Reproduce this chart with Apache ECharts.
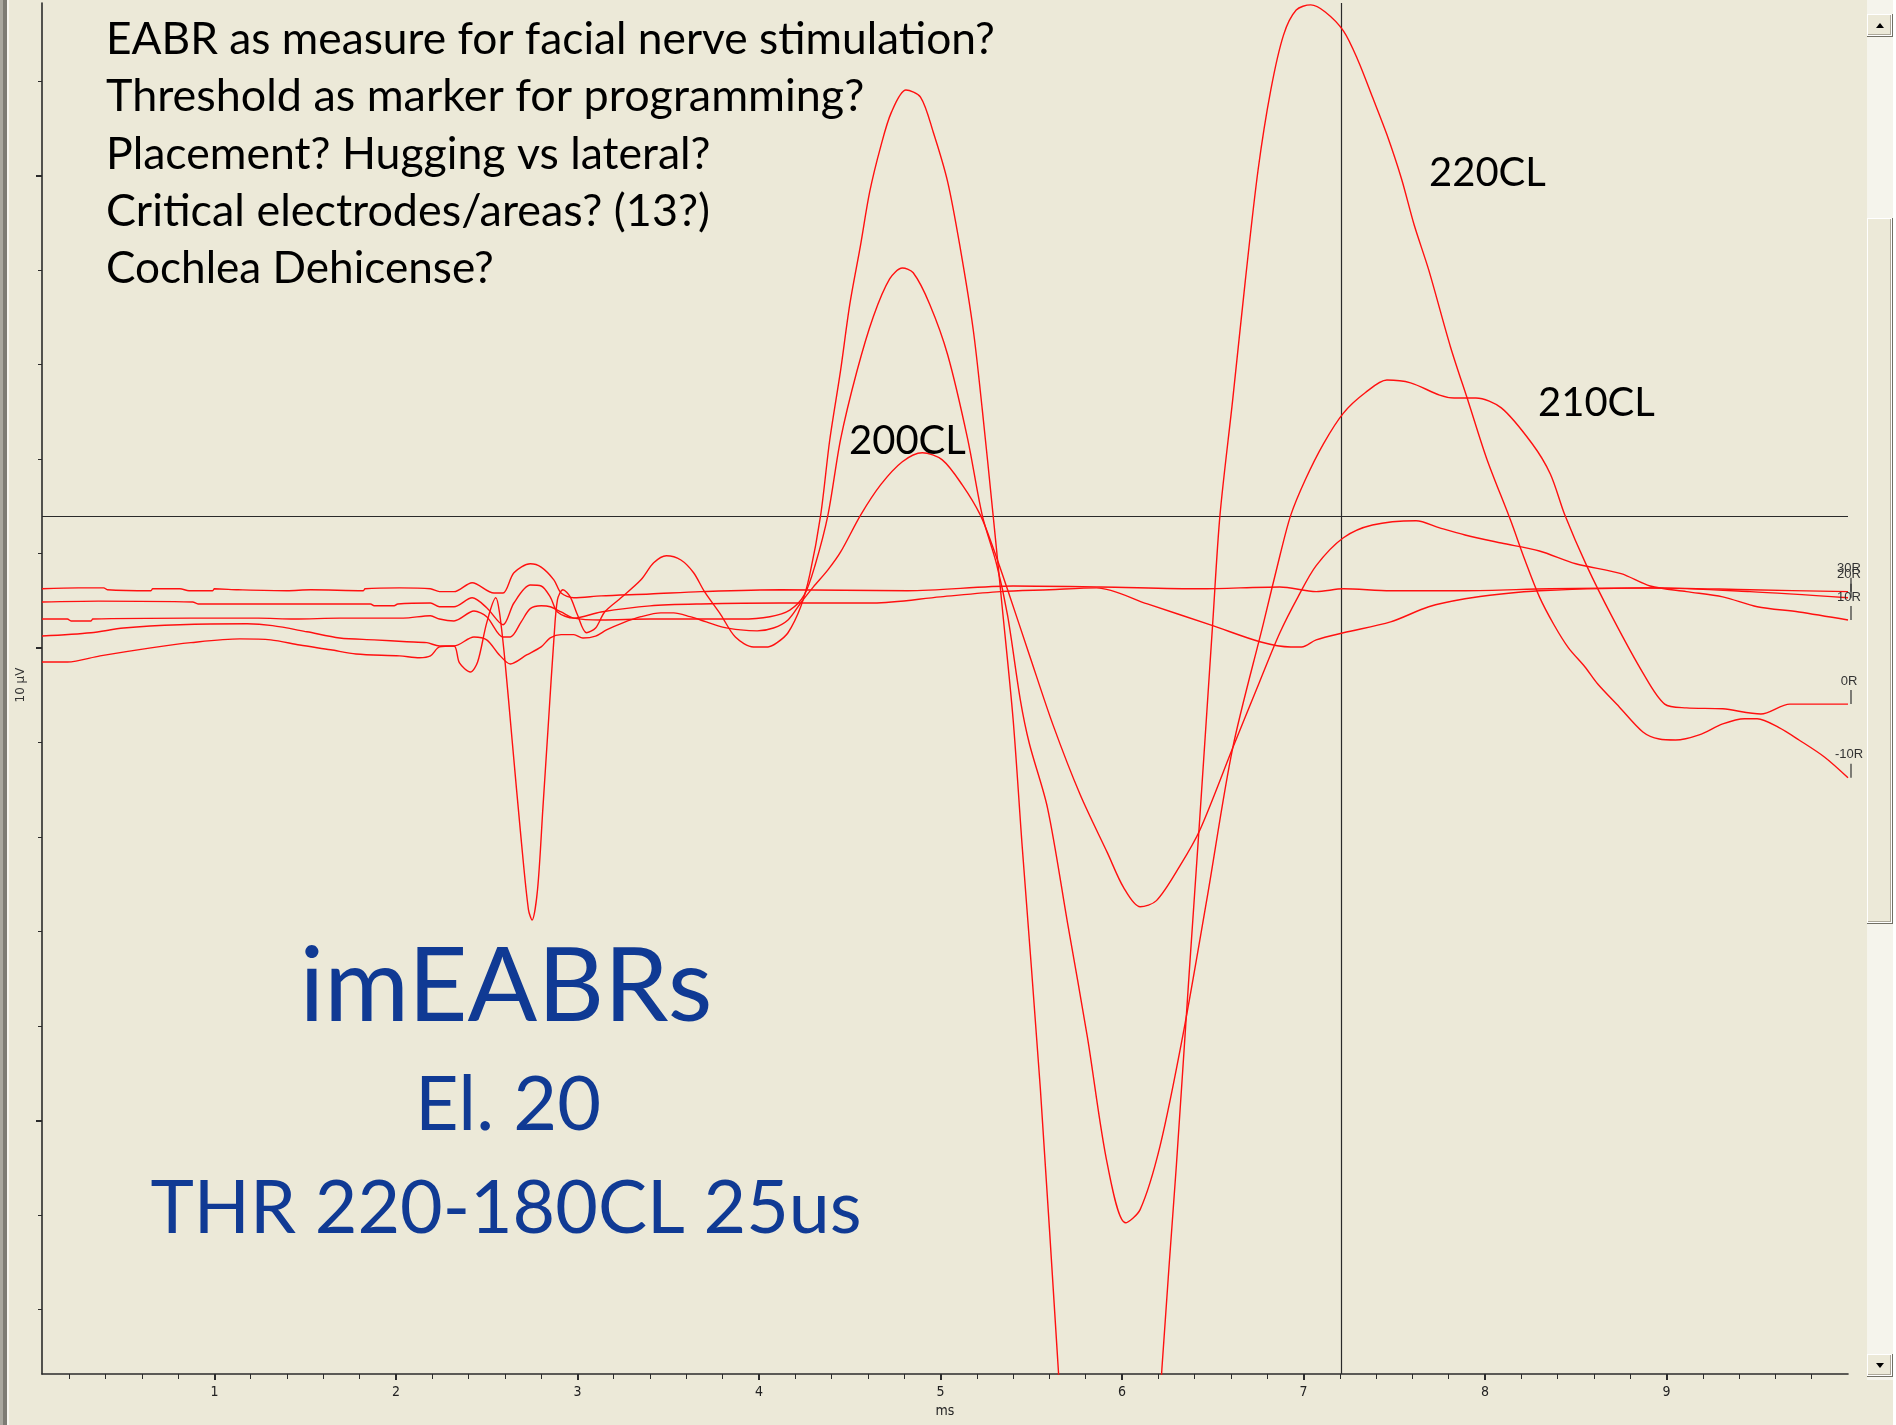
<!DOCTYPE html>
<html><head><meta charset="utf-8">
<script src="https://cdn.jsdelivr.net/npm/echarts@6/dist/echarts.min.js"></script>
<style>html,body{margin:0;padding:0;background:#ECE9D8;overflow:hidden}#c{width:1896px;height:1425px}</style>
</head><body><div id="c"></div>
<script>
// ---------- data (time in ms, amplitude in µV) ----------
const X_LABELS = [1,2,3,4,5,6,7,8,9];
const Y_TICKS = [12,10,8,6,4,2,0,-2,-4,-6,-8,-10,-12,-14];
const Y_MAJOR = [10,0,-10];
const X_RANGE = [0.05, 10];
const Y_RANGE = [-15.37, 13.65];
const CURSOR_MS = 7.21;
const CURSOR_UV = 2.79;
const END_LABELS = ['30R','20R','10R','0R','-10R'];
const QUESTIONS = ['EABR as measure for facial nerve stimulation?','Threshold as marker for programming?','Placement? Hugging vs lateral?','Critical electrodes/areas? (13?)','Cochlea Dehicense?'];
const CURVE_LABELS = ['220CL','210CL','200CL'];
const TITLE_LINES = ['imEABRs','El. 20','THR 220-180CL 25us'];

const trace180 = [[0.05,1.25],[0.25,1.27],[0.39,1.27],[0.41,1.23],[0.65,1.21],[0.66,1.25],[0.81,1.25],[0.86,1.21],[0.99,1.21],[1.00,1.25],[1.13,1.23],[1.40,1.21],[1.53,1.23],[1.82,1.21],[1.83,1.25],[2.02,1.27],[2.19,1.25],[2.24,1.19],[2.32,1.19],[2.42,1.38],[2.54,1.16],[2.59,1.16],[2.65,1.59],[2.74,1.78],[2.80,1.71],[2.87,1.44],[2.91,1.16],[2.98,1.06],[3.13,1.10],[3.40,1.14],[3.68,1.19],[4.12,1.23],[4.82,1.21],[5.40,1.31],[5.88,1.29],[6.43,1.25],[6.87,1.29],[7.07,1.19],[7.22,1.25],[7.48,1.21],[7.89,1.21],[8.36,1.25],[8.91,1.27],[9.46,1.23],[10.0,1.19]];
const trace190 = [[0.05,0.97],[0.36,0.99],[0.88,0.97],[0.91,0.93],[1.86,0.93],[1.88,0.89],[1.99,0.89],[2.01,0.93],[2.19,0.95],[2.24,0.87],[2.32,0.87],[2.42,1.06],[2.50,0.85],[2.59,0.49],[2.65,0.95],[2.74,1.33],[2.80,1.31],[2.85,1.08],[2.89,0.76],[2.98,0.63],[3.13,0.76],[3.40,0.89],[3.68,0.93],[4.12,0.95],[4.63,0.95],[5.00,1.08],[5.33,1.19],[5.60,1.23],[5.86,1.27],[6.14,0.93],[6.50,0.47],[6.76,0.13],[6.93,0.02],[6.99,0.02],[7.07,0.17],[7.22,0.32],[7.48,0.55],[7.69,0.87],[7.89,1.04],[8.09,1.14],[8.30,1.21],[8.91,1.27],[9.46,1.19],[10.0,1.06]];
const trace200 = [[0.05,0.25],[0.32,0.32],[0.50,0.42],[0.81,0.49],[1.18,0.51],[1.32,0.47],[1.51,0.34],[1.69,0.21],[1.88,0.17],[2.06,0.13],[2.17,0.11],[2.24,0.04],[2.32,0.04],[2.43,0.23],[2.50,0.17],[2.57,-0.15],[2.63,-0.34],[2.72,-0.15],[2.80,0.02],[2.85,0.21],[2.91,0.28],[2.98,0.28],[3.03,0.21],[3.10,0.25],[3.16,0.38],[3.25,0.53],[3.35,0.66],[3.46,0.74],[3.53,0.74],[3.62,0.66],[3.71,0.55],[3.80,0.44],[3.90,0.38],[3.99,0.36],[4.08,0.42],[4.16,0.59],[4.23,0.95],[4.30,1.29],[4.38,1.65],[4.45,2.03],[4.56,2.81],[4.67,3.45],[4.79,3.94],[4.90,4.13],[5.01,3.98],[5.12,3.45],[5.22,2.81],[5.29,2.12],[5.37,1.23],[5.49,-0.15],[5.62,-1.63],[5.77,-3.11],[5.92,-4.34],[6.01,-5.08],[6.10,-5.48],[6.19,-5.35],[6.32,-4.61],[6.43,-3.85],[6.61,-2.12],[6.76,-0.70],[6.87,0.32],[6.97,1.08],[7.07,1.74],[7.22,2.33],[7.38,2.60],[7.62,2.69],[7.75,2.54],[7.89,2.39],[8.09,2.22],[8.30,2.05],[8.50,1.78],[8.75,1.57],[8.91,1.31],[9.11,1.19],[9.31,1.08],[9.50,0.87],[9.73,0.76],[10.0,0.59]];
const trace210 = [[0.05,0.61],[0.19,0.61],[0.21,0.57],[0.32,0.57],[0.33,0.61],[0.87,0.63],[1.24,0.63],[1.44,0.61],[1.69,0.63],[2.04,0.63],[2.19,0.68],[2.24,0.61],[2.32,0.57],[2.43,0.78],[2.50,0.66],[2.59,0.23],[2.63,0.23],[2.69,0.55],[2.74,0.83],[2.80,0.89],[2.85,0.87],[2.91,0.76],[2.98,0.63],[3.13,0.59],[3.40,0.61],[3.68,0.61],[3.90,0.61],[4.06,0.66],[4.17,0.80],[4.25,1.12],[4.31,1.76],[4.38,2.81],[4.45,4.42],[4.54,5.86],[4.63,7.01],[4.72,7.81],[4.79,8.04],[4.85,7.94],[4.94,7.28],[5.04,6.20],[5.15,4.42],[5.23,2.81],[5.31,1.76],[5.37,0.68],[5.44,-1.10],[5.49,-2.03],[5.59,-3.39],[5.70,-5.82],[5.81,-8.25],[5.92,-10.94],[6.02,-12.17],[6.10,-11.89],[6.21,-10.54],[6.34,-8.11],[6.47,-5.27],[6.61,-2.12],[6.78,0.53],[6.87,1.95],[6.93,2.81],[7.01,3.56],[7.11,4.32],[7.22,4.97],[7.34,5.40],[7.46,5.67],[7.59,5.61],[7.75,5.35],[7.83,5.29],[7.95,5.29],[8.09,5.08],[8.26,4.32],[8.36,3.68],[8.44,2.81],[8.56,1.74],[8.70,0.66],[8.87,-0.53],[8.99,-1.19],[9.11,-1.27],[9.31,-1.29],[9.52,-1.40],[9.68,-1.19],[10.0,-1.19]];
const trace220 = [[0.05,-0.30],[0.19,-0.30],[0.37,-0.17],[0.65,0],[0.87,0.11],[1.14,0.19],[1.31,0.17],[1.47,0.06],[1.64,-0.04],[1.78,-0.13],[2.02,-0.17],[2.13,-0.21],[2.19,-0.17],[2.24,0.02],[2.32,0.04],[2.35,-0.32],[2.41,-0.51],[2.45,-0.30],[2.50,0.53],[2.55,1.06],[2.57,0.76],[2.60,-0.25],[2.64,-1.95],[2.69,-4.06],[2.73,-5.54],[2.75,-5.76],[2.78,-5.12],[2.81,-3.37],[2.84,-1.59],[2.87,0.17],[2.89,1.02],[2.92,1.23],[2.96,1.08],[3.00,0.70],[3.05,0.32],[3.10,0.42],[3.15,0.76],[3.24,1.06],[3.35,1.44],[3.42,1.80],[3.49,1.95],[3.57,1.86],[3.64,1.59],[3.70,1.19],[3.79,0.70],[3.87,0.23],[3.97,0.02],[4.05,0.02],[4.10,0.11],[4.16,0.32],[4.23,0.87],[4.28,1.55],[4.34,2.81],[4.39,4.40],[4.45,5.88],[4.50,7.26],[4.56,8.53],[4.61,9.65],[4.67,10.60],[4.73,11.34],[4.81,11.81],[4.89,11.66],[4.96,10.92],[5.04,9.86],[5.11,8.44],[5.18,6.75],[5.23,5.06],[5.29,2.81],[5.34,0.87],[5.40,-1.50],[5.45,-4.19],[5.55,-9.31],[5.65,-15.32],[5.74,-20.57],[5.85,-24.38],[5.94,-25.44],[6.04,-24.17],[6.15,-20.15],[6.22,-15.26],[6.30,-10.94],[6.37,-6.90],[6.43,-3.53],[6.50,0.53],[6.54,2.81],[6.61,5.25],[6.68,7.79],[6.75,10.12],[6.82,11.81],[6.89,12.97],[6.96,13.50],[7.04,13.61],[7.12,13.46],[7.22,13.06],[7.30,12.44],[7.38,11.66],[7.46,10.86],[7.54,9.93],[7.61,8.95],[7.69,8.00],[7.81,6.37],[7.91,5.19],[8.01,4.00],[8.14,2.71],[8.22,1.86],[8.30,1.08],[8.38,0.49],[8.46,0],[8.55,-0.40],[8.62,-0.76],[8.74,-1.25],[8.87,-1.78],[8.96,-1.93],[9.05,-1.95],[9.18,-1.84],[9.31,-1.61],[9.43,-1.50],[9.50,-1.50],[9.62,-1.69],[9.73,-1.95],[9.87,-2.31],[10.0,-2.75]];
const TRACES = [trace180, trace190, trace200, trace210, trace220];
// trace order for end markers: 30R,20R,10R,0R,-10R
const END_TRACE_ORDER = [trace180, trace190, trace200, trace210, trace220];

// ---------- chart ----------
const X_MINOR = [];
for (let i = 1; i <= 49; i++) X_MINOR.push(+(i * 0.2).toFixed(1));

const AXIS_C = '#2b2b2b';
const chart = echarts.init(document.getElementById('c'), null, {width:1896, height:1425});

const series = TRACES.map((t, i) => ({
  type:'line', data:t, showSymbol:false, smooth:0.3, clip:true, silent:true,
  lineStyle:{color:'#ff1010', width:1.4}, z:3,
  markLine: i === 0 ? {silent:true, symbol:'none', label:{show:false}, animation:false,
    lineStyle:{color:'#2a2a2a', width:1.2, type:'solid'}, z:2,
    data:[{yAxis:CURSOR_UV},{xAxis:CURSOR_MS}]} : undefined
}));

chart.setOption({
  backgroundColor:'#ECE9D8',
  animation:false,
  grid:{left:42, top:3, right:48, bottom:51},
  xAxis:[
    {type:'value', min:X_RANGE[0], max:X_RANGE[1], position:'bottom',
     axisLine:{show:true, onZero:false, lineStyle:{color:AXIS_C, width:1.6}},
     axisTick:{show:true, customValues:X_MINOR, length:5, lineStyle:{color:AXIS_C, width:1}},
     axisLabel:{show:true, customValues:X_LABELS, margin:11, color:'#222', fontSize:14, fontFamily:'"Liberation Sans Narrow","DejaVu Sans Condensed",sans-serif'},
     splitLine:{show:false}},
    {type:'value', min:X_RANGE[0], max:X_RANGE[1], position:'bottom',
     axisLine:{show:false, onZero:false},
     axisTick:{show:true, customValues:X_LABELS, length:6, lineStyle:{color:AXIS_C, width:2}},
     axisLabel:{show:false}, splitLine:{show:false}}
  ],
  yAxis:[
    {type:'value', min:Y_RANGE[0], max:Y_RANGE[1], position:'left',
     axisLine:{show:true, onZero:false, lineStyle:{color:AXIS_C, width:1.6}},
     axisTick:{show:true, customValues:Y_TICKS, length:4, lineStyle:{color:AXIS_C, width:1}},
     axisLabel:{show:false}, splitLine:{show:false}},
    {type:'value', min:Y_RANGE[0], max:Y_RANGE[1], position:'left',
     axisLine:{show:false, onZero:false},
     axisTick:{show:true, customValues:Y_MAJOR, length:6, lineStyle:{color:AXIS_C, width:2}},
     axisLabel:{show:false}, splitLine:{show:false}}
  ],
  series: series
});

// ---------- annotations ----------
const cv = document.createElement('canvas').getContext('2d');
function fit(text, family, target) {
  cv.font = '100px ' + family;
  return 100 * target / cv.measureText(text).width;
}
const QFONT = 'Lato';
const QY = [40, 97, 155, 212, 269];
const QW = [888, 759, 605, 604, 388];
const g = [];
QUESTIONS.forEach((q, i) => {
  const s = fit(q, QFONT, QW[i]);
  g.push({type:'text', x:106, y:QY[i], z:10, silent:true,
    style:{text:q, font:s.toFixed(1)+'px '+QFONT, fill:'#000', align:'left', verticalAlign:'middle'}});
});

const CL_POS = [[1429,173],[1538,403],[849,441]];
const clSize = fit('220CL', QFONT, 117);
CURVE_LABELS.forEach((t, i) => g.push({type:'text', x:CL_POS[i][0], y:CL_POS[i][1], z:10, silent:true,
  style:{text:t, font:clSize.toFixed(1)+'px '+QFONT, fill:'#000', align:'left', verticalAlign:'middle'}}));

const BLUE = '#103a94';
const T_POS = [[506,988,413],[508,1106,186],[506,1209,711]];
TITLE_LINES.forEach((t, i) => {
  const s = fit(t, QFONT, T_POS[i][2]);
  g.push({type:'text', x:T_POS[i][0], y:T_POS[i][1], z:10, silent:true,
    style:{text:t, font:s.toFixed(1)+'px '+QFONT, fill:BLUE, align:'center', verticalAlign:'middle'}});
});

// axis names
g.push({type:'text', x:945, y:1411, silent:true, style:{text:'ms', font:'14px "Liberation Sans Narrow","DejaVu Sans Condensed",sans-serif', fill:'#222', align:'center', verticalAlign:'middle'}});
g.push({type:'text', x:21, y:685, rotation:Math.PI/2, silent:true, style:{text:'10 µV', font:'12px "DejaVu Sans",sans-serif', fill:'#333', align:'center', verticalAlign:'middle'}});

// end-of-trace markers
END_TRACE_ORDER.forEach((t, i) => {
  const last = t[t.length - 1];
  const p = chart.convertToPixel({gridIndex:0}, last);
  const px = p[0] + 3;
  g.push({type:'line', silent:true, z:5, shape:{x1:px, y1:p[1]-14, x2:px, y2:p[1]}, style:{stroke:'#333', lineWidth:1.2}});
  g.push({type:'text', x:px - 2, y:p[1]-23, silent:true, z:5, style:{text:END_LABELS[i], font:'13px "Liberation Sans",sans-serif', fill:'#333', align:'center', verticalAlign:'middle'}});
});

// window chrome: left border and scrollbar
g.push({type:'rect', silent:true, shape:{x:0,y:0,width:3,height:1425}, style:{fill:'#a9a79f'}});
g.push({type:'rect', silent:true, shape:{x:3,y:0,width:4,height:1425}, style:{fill:'#7d7b74'}});
g.push({type:'rect', silent:true, shape:{x:7,y:0,width:2,height:1425}, style:{fill:'#f7f6f0'}});
g.push({type:'rect', silent:true, shape:{x:1867,y:0,width:26,height:1380}, style:{fill:'#f5f4ec'}});
function button(y, h) {
  g.push({type:'rect', silent:true, shape:{x:1867,y:y,width:26,height:h}, style:{fill:'#716f64'}});
  g.push({type:'rect', silent:true, shape:{x:1867,y:y,width:25,height:h-1}, style:{fill:'#ffffff'}});
  g.push({type:'rect', silent:true, shape:{x:1868,y:y+1,width:23,height:h-3}, style:{fill:'#aca899'}});
  g.push({type:'rect', silent:true, shape:{x:1868,y:y+1,width:22,height:h-4}, style:{fill:'#ECE9D8'}});
}
button(14, 23);
button(218, 706);
button(1354, 23);
g.push({type:'polygon', silent:true, shape:{points:[[1876,28],[1884,28],[1880,23]]}, style:{fill:'#000'}});
g.push({type:'polygon', silent:true, shape:{points:[[1876,1363],[1884,1363],[1880,1368]]}, style:{fill:'#000'}});
g.push({type:'rect', silent:true, shape:{x:1893,y:0,width:3,height:1425}, style:{fill:'#ffffff'}});

chart.setOption({graphic:g});
</script></body></html>
